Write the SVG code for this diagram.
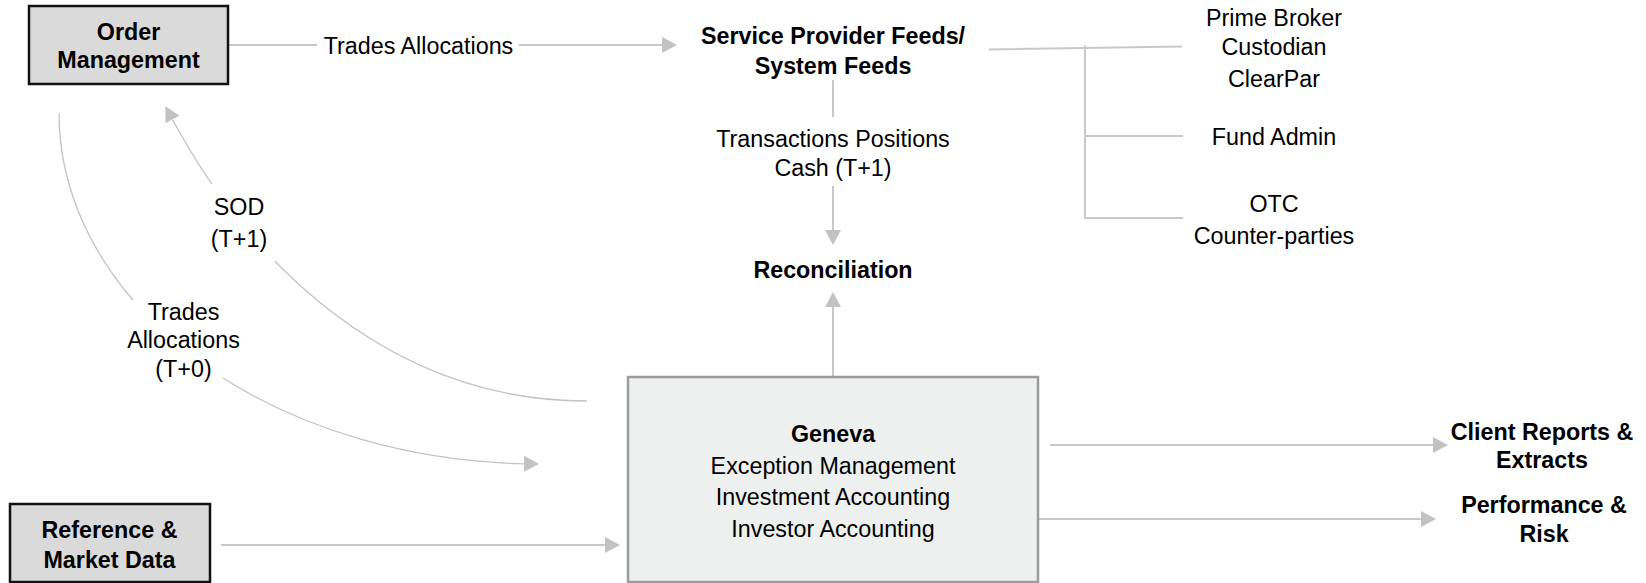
<svg xmlns="http://www.w3.org/2000/svg" width="1646" height="583" viewBox="0 0 1646 583">
<style>
text{font-family:"Liberation Sans",Arial,sans-serif;font-size:23.3px;fill:#000;text-anchor:middle}
.b{font-weight:bold}
.dark{fill:#dadada;stroke:#111;stroke-width:2.5}
.gen{fill:#eef0ef;stroke:#9c9c9c;stroke-width:2.5}
.ln{fill:none;stroke:#c8c8c8;stroke-width:2}
.cv{fill:none;stroke:#c2c2c2;stroke-width:1.3}
.ar{marker-end:url(#ah)}
</style>
<defs>
<marker id="ah" markerUnits="userSpaceOnUse" markerWidth="16" markerHeight="16" refX="0" refY="8" orient="auto" viewBox="0 0 16 16">
<path d="M0,0 L15,8 L0,16 z" fill="#c2c2c2"/>
</marker>
</defs>
<rect width="1646" height="583" fill="#fff"/>
<g id="connectors">
<path class="ln" d="M228,45 H317"/>
<path class="ln ar" d="M519,45 H662"/>
<path class="ln" d="M833,80 V117"/>
<path class="ln ar" d="M833,186 V230"/>
<path class="ln ar" d="M833,376 V307"/>
<path class="ln" d="M989,49.5 L1182,46.5 M1085,45.5 V218 H1183 M1085,136 H1183"/>
<path class="ln ar" d="M1050,445 H1433"/>
<path class="ln ar" d="M1039,519 H1421"/>
<path class="ln ar" d="M221,545 H605"/>
<path class="cv ar" d="M59,113 A480,351 0 0,0 133,300 M223,378 A480,351 0 0,0 524,463.8"/>
<path class="cv ar" d="M587,401 C387,401 248.5,260.3 172.5,119.5"/>
<rect x="200" y="184" width="76" height="77" fill="#fff"/>
</g>
<g id="order-management">
<rect class="dark" x="29" y="6" width="199" height="78"/>
<text class="b" x="128.5" y="39.5">Order</text>
<text class="b" x="128.5" y="68">Management</text>
</g>
<g id="reference-market-data">
<rect class="dark" x="10" y="504" width="200" height="78"/>
<text class="b" x="109.5" y="538">Reference &amp;</text>
<text class="b" x="109.5" y="568">Market Data</text>
</g>
<g id="geneva">
<rect class="gen" x="628" y="377" width="410" height="205"/>
<text class="b" x="833" y="442">Geneva</text>
<text x="833" y="473.5">Exception Management</text>
<text x="833" y="505">Investment Accounting</text>
<text x="833" y="536.5">Investor Accounting</text>
</g>
<g id="service-provider-feeds">
<text class="b" x="833" y="44">Service Provider Feeds/</text>
<text class="b" x="833" y="74">System Feeds</text>
</g>
<g id="reconciliation">
<text class="b" x="833" y="278">Reconciliation</text>
</g>
<g id="prime-broker">
<text x="1274" y="26">Prime Broker</text>
<text x="1274" y="54.5">Custodian</text>
<text x="1274" y="87">ClearPar</text>
</g>
<g id="fund-admin">
<text x="1274" y="145">Fund Admin</text>
</g>
<g id="otc">
<text x="1274" y="211.5">OTC</text>
<text x="1274" y="244">Counter-parties</text>
</g>
<g id="client-reports">
<text class="b" x="1542" y="440">Client Reports &amp;</text>
<text class="b" x="1542" y="468">Extracts</text>
</g>
<g id="performance-risk">
<text class="b" x="1544" y="513">Performance &amp;</text>
<text class="b" x="1544" y="542">Risk</text>
</g>
<g id="labels">
<text x="418.5" y="53.5">Trades Allocations</text>
<text x="833" y="147">Transactions Positions</text>
<text x="833" y="176">Cash (T+1)</text>
<text x="239" y="215">SOD</text>
<text x="239" y="246.5">(T+1)</text>
<text x="183.5" y="319.5">Trades</text>
<text x="183.5" y="348">Allocations</text>
<text x="183.5" y="377">(T+0)</text>
</g>
</svg>
